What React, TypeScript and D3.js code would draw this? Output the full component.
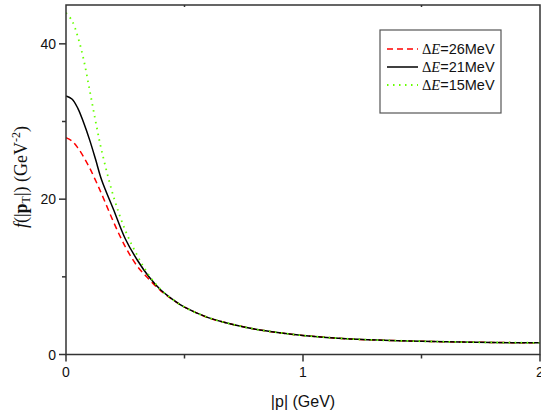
import React from "react";
import * as d3 from "d3";

const pValues = [0, 0.025, 0.05, 0.075, 0.1, 0.125, 0.15, 0.2, 0.25, 0.3, 0.35, 0.4, 0.45, 0.5, 0.6, 0.7, 0.8, 0.9, 1.0, 1.2, 1.4, 1.6, 1.8, 2.0];
const tail = [6.1, 4.75, 3.9, 3.25, 2.8, 2.45, 2.0, 1.78, 1.64, 1.55, 1.5];
const seriesE26 = [27.9, 27.5, 26.6, 25.4, 24.0, 22.4, 20.7, 17.1, 13.9, 11.4, 9.7, 8.2, 7.05, ...tail];
const seriesE21 = [33.3, 32.9, 31.7, 29.8, 27.6, 25.1, 22.5, 18.7, 14.9, 12.2, 10.0, 8.3, 7.1, ...tail];
const seriesE15 = [44.0, 43.0, 40.9, 37.9, 34.0, 30.0, 26.3, 20.4, 16.0, 12.8, 10.2, 8.35, 7.1, ...tail];
const legendLabels = ["26MeV", "21MeV", "15MeV"];
const xMajorTicks = [0, 1, 2];
const xMinorTicks = [0.5, 1.5];
const yMajorTicks = [0, 20, 40];
const yMinorTicks = [10, 30];

const series = [
  { values: seriesE26, color: "#ff0000", dash: "6,4", width: 1.5 },
  { values: seriesE21, color: "#000000", dash: "", width: 1.5 },
  { values: seriesE15, color: "#66ff00", dash: "1.5,4.5", width: 1.8 },
];

export default function App() {
  const W = 541, H = 414;
  const left = 66, right = 540, top = 5, bottom = 354.5;
  const x = d3.scaleLinear().domain([0, 2]).range([left, right]);
  const y = d3.scaleLinear().domain([0, 45]).range([bottom, top]);
  const line = d3
    .line<number>()
    .x((_, i) => x(pValues[i]))
    .y((d) => y(d))
    .curve(d3.curveCatmullRom.alpha(0.5));
  const axisColor = "#333";
  const sans = "Liberation Sans, Arial, sans-serif";
  const serif = "Liberation Serif, Times New Roman, serif";
  const lg = { x: 380, y: 30, w: 121, h: 83 };
  const rowY = [49, 67, 85];
  return (
    <svg width={W} height={H} style={{ position: "absolute", left: 0, top: 0 }}>
      <rect width={W} height={H} fill="#fff" />
      <defs>
        <clipPath id="plot">
          <rect x={left} y={top} width={right - left} height={bottom - top} />
        </clipPath>
      </defs>
      <g clipPath="url(#plot)">
        {series.map((s, i) => (
          <path key={i} d={line(s.values) || ""} fill="none" stroke={s.color} strokeWidth={s.width} strokeDasharray={s.dash} />
        ))}
      </g>
      <rect x={left} y={top} width={right - left} height={bottom - top} fill="none" stroke={axisColor} strokeWidth={1.5} />
      {xMajorTicks.map((t) => (
        <g key={"xm" + t}>
          <line x1={x(t)} x2={x(t)} y1={bottom} y2={bottom + 7} stroke={axisColor} strokeWidth={1.5} />
          <text x={x(t)} y={bottom + 22} textAnchor="middle" fontFamily={sans} fontSize={14} fill="#111">{t}</text>
        </g>
      ))}
      {xMinorTicks.map((t) => (
        <g key={"xn" + t}>
          <line x1={x(t)} x2={x(t)} y1={bottom} y2={bottom + 4} stroke={axisColor} strokeWidth={1.5} />
          <line x1={x(t)} x2={x(t)} y1={top} y2={top + 2} stroke={axisColor} strokeWidth={1.5} />
        </g>
      ))}
      {yMajorTicks.map((t) => (
        <g key={"ym" + t}>
          <line x1={left - 7} x2={left} y1={y(t)} y2={y(t)} stroke={axisColor} strokeWidth={1.5} />
          <text x={left - 10} y={y(t) + 5} textAnchor="end" fontFamily={sans} fontSize={14} fill="#111">{t}</text>
        </g>
      ))}
      {yMinorTicks.map((t) => (
        <line key={"yn" + t} x1={left - 4} x2={left} y1={y(t)} y2={y(t)} stroke={axisColor} strokeWidth={1.5} />
      ))}
      <text x={x(1)} y={407} textAnchor="middle" fontFamily={sans} fontSize={16} fill="#111">|p| (GeV)</text>
      <text transform={`translate(27,177) rotate(-90)`} textAnchor="middle" fontFamily={serif} fontSize={18} fill="#111">
        <tspan fontStyle="italic">f</tspan>
        <tspan>(|</tspan>
        <tspan fontWeight="bold">p</tspan>
        <tspan fontSize={12} dy={3}>T</tspan>
        <tspan dy={-3}>|) (GeV</tspan>
        <tspan fontSize={12} dy={-7}>-2</tspan>
        <tspan dy={7}>)</tspan>
      </text>
      <rect x={lg.x} y={lg.y} width={lg.w} height={lg.h} fill="#fff" stroke="#555" strokeWidth={1.2} />
      {series.map((s, i) => (
        <g key={"lg" + i}>
          <line x1={387} x2={418} y1={rowY[i]} y2={rowY[i]} stroke={s.color} strokeWidth={s.width} strokeDasharray={s.dash} />
          <text x={422} y={rowY[i] + 5} fontFamily={sans} fontSize={14.5} fill="#111">
            <tspan fontFamily={serif}>Δ</tspan>
            <tspan fontFamily={serif} fontStyle="italic">E</tspan>
            <tspan>={legendLabels[i]}</tspan>
          </text>
        </g>
      ))}
    </svg>
  );
}
